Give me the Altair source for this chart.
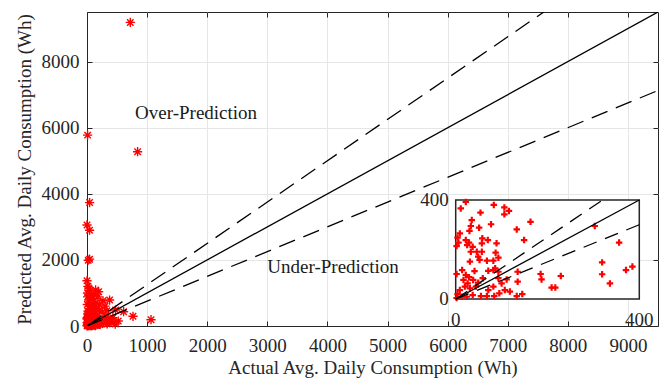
import altair as alt
import pandas as pd

# ---- data ----
# points that fall inside the 0-400 zoom window (also drawn in the main plot)
low_actual = [22, 11, 83, 106, 116, 106, 54, 35, 77, 33,
              51, 30, 9, 4, 6, 22, 29, 58, 70, 57,
              89, 25, 37, 2, 33, 46, 57, 87, 49, 52,
              68, 82, 31, 93, 133, 163, 149, 14, 41, 71,
              82, 86, 2, 22, 29, 17, 26, 38, 20, 31,
              9, 4, 44, 49, 59, 93, 93, 111, 135, 135,
              100, 71, 82, 95, 107, 118, 133, 145, 84, 68,
              55, 37, 185, 187, 209, 217, 13, 2, 24, 303,
              356, 319, 319, 336, 371, 385, 229]
low_predicted = [392, 366, 380, 370, 356, 342, 349, 319, 302, 295,
                 288, 275, 265, 248, 228, 238, 228, 245, 238, 225,
                 225, 218, 211, 214, 191, 191, 191, 187, 171, 158,
                 155, 155, 151, 167, 281, 312, 238, 117, 113, 114,
                 117, 124, 101, 97, 88, 77, 63, 77, 50, 43,
                 36, 20, 50, 66, 84, 110, 84, 79, 110, 70,
                 63, 36, 50, 23, 36, 30, 12, 20, 12, 12,
                 12, 16, 101, 79, 46, 46, 9, 4, 9, 295,
                 228, 148, 100, 63, 117, 131, 93]
# points outside the zoom window
high_actual = [720, 10, 842, 43, 0, 43, 43, 20, 0, 55,
               143, 193, 266, 376, 609, 765, 1065, 476, 450, 90,
               15, 60, 10, 100, 30, 150, 5, 70, 120, 40,
               200, 15, 90, 250, 300, 180, 430, 520, 470, 30,
               8, 120, 50, 210, 160, 330]
high_predicted = [9185, 5775, 5273, 3734, 3058, 2898, 2022, 1990, 1367, 1066,
                  1090, 1035, 764, 785, 432, 293, 190, 483, 110, 660,
                  1200, 950, 880, 830, 760, 700, 650, 600, 560, 520,
                  480, 450, 430, 420, 600, 880, 250, 150, 60, 1150,
                  1000, 950, 820, 640, 520, 460]
assert len(low_actual) == len(low_predicted)
assert len(high_actual) == len(high_predicted)

ratios = [1.25, 1.0, 0.75]          # over / exact / under prediction lines
main_max = 9500
inset_max = 400
x_ticks = [0, 1000, 2000, 3000, 4000, 5000, 6000, 7000, 8000, 9000]
y_ticks = [0, 2000, 4000, 6000, 8000]
inset_ticks = [0, 400]
note_text = ["Over-Prediction", "Under-Prediction"]
note_actual = [800, 3000]
note_predicted = [6450, 1780]

# ---- tables ----
df = pd.DataFrame({"actual": low_actual + high_actual,
                   "predicted": low_predicted + high_predicted})
main_lines = pd.DataFrame([{"ratio": r, "a": a, "p": a * r}
                           for r in ratios for a in (0, main_max)])
inset_lines = pd.DataFrame([{"ratio": r, "a": a, "p": a * r}
                            for r in ratios for a in (0, min(inset_max, inset_max / r))])
notes_df = pd.DataFrame({"text": note_text, "a": note_actual, "p": note_predicted})
box_df = pd.DataFrame({"a0": [0], "a1": [inset_max], "p0": [0], "p1": [inset_max]})
ix_lab = pd.DataFrame({"v": inset_ticks, "z": [0] * len(inset_ticks),
                       "t": [str(v) for v in inset_ticks]})

W, H = 571, 314
FONT = "Liberation Serif"
INK = "#262626"
AST = "M-1,0L1,0M0,-1L0,1M-0.7,-0.7L0.7,0.7M-0.7,0.7L0.7,-0.7"
PLUS = "M-1,0L1,0M0,-1L0,1"

xs = alt.Scale(domain=[0, main_max], nice=False, zero=False)
ys = alt.Scale(domain=[0, main_max], nice=False, zero=False)


def tick_axis(orient, vals):
    return alt.Axis(orient=orient, values=vals, offset=-5, tickSize=5, ticks=True,
                    labels=False, domain=False, grid=False, title=None)


ax_x = alt.Axis(orient="bottom", values=x_ticks, format="d", grid=True, ticks=False,
                domain=True, labelPadding=10, labelFlush=False, labelOverlap=False,
                title="Actual Avg. Daily Consumption (Wh)", titlePadding=3)
ax_y = alt.Axis(orient="left", values=y_ticks, format="d", grid=True, ticks=False,
                domain=True, labelPadding=8, labelOverlap=False,
                title="Predicted Avg. Daily Consumption (Wh)", titlePadding=7)

points = alt.Chart(df).mark_point(shape=AST, filled=False, size=85, strokeWidth=1.4,
                                  color="red", opacity=1).encode(
    x=alt.X("actual:Q", scale=xs, axis=ax_x),
    y=alt.Y("predicted:Q", scale=ys, axis=ax_y),
)
solid = alt.Chart(main_lines).transform_filter("datum.ratio == 1").mark_line(
    clip=True, color="black", strokeWidth=1.3).encode(
    x=alt.X("a:Q", scale=xs, axis=tick_axis("bottom", x_ticks)),
    y=alt.Y("p:Q", scale=ys, axis=tick_axis("left", y_ticks)),
)
dashed = alt.Chart(main_lines).transform_filter("datum.ratio != 1").mark_line(
    clip=True, color="black", strokeWidth=1.3, strokeDash=[17, 9]).encode(
    x=alt.X("a:Q", scale=xs, axis=tick_axis("top", x_ticks)),
    y=alt.Y("p:Q", scale=ys, axis=tick_axis("right", y_ticks)),
    detail="ratio:N",
)
notes = alt.Chart(notes_df).mark_text(align="left", baseline="middle", font=FONT,
                                      fontSize=19, color="#1a1a1a").encode(
    x=alt.X("a:Q", scale=xs, axis=None),
    y=alt.Y("p:Q", scale=ys, axis=None),
    text="text:N",
)
main = alt.layer(points, solid, dashed, notes).resolve_axis(x="independent", y="independent")

# ---- inset (zoom on 0-400) ----
ixs = alt.Scale(domain=[0, inset_max], range=[368.7, 552.3], nice=False, zero=False)
iys = alt.Scale(domain=[0, inset_max], range=[287, 188], nice=False, zero=False)

box = alt.Chart(box_df).mark_rect(fill="white", stroke=INK, strokeWidth=1.5).encode(
    x=alt.X("a0:Q", scale=ixs, axis=None),
    x2="a1:Q",
    y=alt.Y("p0:Q", scale=iys, axis=None),
    y2="p1:Q",
)
ipoints = alt.Chart(df).transform_filter(
    f"datum.actual <= {inset_max} && datum.predicted <= {inset_max}").mark_point(
    shape=PLUS, filled=False, size=42, strokeWidth=2.2, color="red", opacity=1).encode(
    x=alt.X("actual:Q", scale=ixs, axis=None),
    y=alt.Y("predicted:Q", scale=iys, axis=None),
)
isolid = alt.Chart(inset_lines).transform_filter("datum.ratio == 1").mark_line(
    color="black", strokeWidth=1.3).encode(
    x=alt.X("a:Q", scale=ixs, axis=None),
    y=alt.Y("p:Q", scale=iys, axis=None),
)
idashed = alt.Chart(inset_lines).transform_filter("datum.ratio != 1").mark_line(
    color="black", strokeWidth=1.3, strokeDash=[14, 9]).encode(
    x=alt.X("a:Q", scale=ixs, axis=None),
    y=alt.Y("p:Q", scale=iys, axis=None),
    detail="ratio:N",
)
# inset tick labels, placed through the inset scales
ixlabels = alt.Chart(ix_lab).mark_text(align="center", baseline="top", dy=12, font=FONT,
                                       fontSize=19, color=INK).encode(
    x=alt.X("v:Q", scale=ixs, axis=None),
    y=alt.Y("z:Q", scale=iys, axis=None),
    text="t:N",
)
iylabels = alt.Chart(ix_lab).mark_text(align="right", baseline="middle", dx=-7, font=FONT,
                                       fontSize=19, color=INK).encode(
    x=alt.X("z:Q", scale=ixs, axis=None),
    y=alt.Y("v:Q", scale=iys, axis=None),
    text="t:N",
)
inset = alt.layer(box, ipoints, isolid, idashed, ixlabels, iylabels)

chart = alt.layer(main, inset).resolve_scale(x="independent", y="independent").properties(
    width=W, height=H,
    padding={"left": 87, "top": 12, "right": 6, "bottom": 54},
    autosize=alt.AutoSizeParams(type="none"),
    background="white",
).configure_axis(
    labelFont=FONT, titleFont=FONT, labelFontSize=19, titleFontSize=19,
    labelColor=INK, titleColor=INK, titleFontWeight="normal",
    domainColor=INK, tickColor=INK, gridColor="#e6e6e6",
    domainWidth=1, tickWidth=1, gridWidth=1,
).configure_view(stroke=INK, strokeWidth=1)

chart.save("out.html", embed_options={"renderer": "svg", "actions": False})
